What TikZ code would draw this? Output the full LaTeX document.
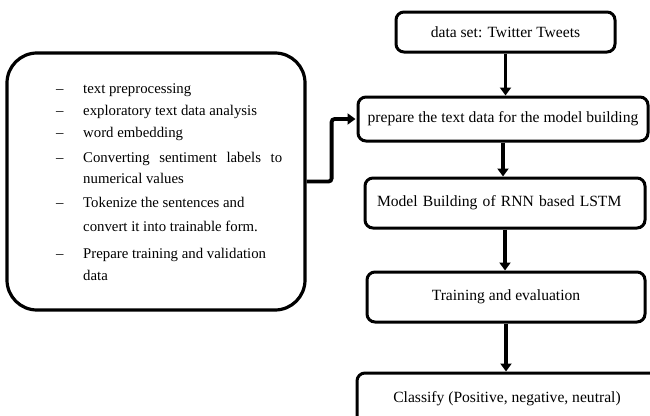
\documentclass[tikz,border=0pt]{standalone}
\usepackage{fontspec}
\setmainfont{Liberation Serif}
\usetikzlibrary{arrows.meta}

\tikzset{
  stepbox/.style={draw=black, line width=3pt, rounded corners=8pt, fill=white,
    inner sep=0pt, font=\fontsize{15.6}{18}\selectfont},
  flow/.style={line width=3.8pt, -{Triangle[width=11pt,length=8pt]}},
  listline/.style={anchor=base west, inner sep=0pt, font=\fontsize{14.8}{17}\selectfont},
}

\begin{document}
\begin{tikzpicture}[x=1pt, y=-1pt]
  \useasboundingbox (0,0) rectangle (650,415);

  % pipeline on the right
  \node[stepbox, minimum width=219pt, minimum height=40pt] (data) at (505.5,32) {data set: Twitter Tweets};
  \node[stepbox, minimum width=290pt, minimum height=44pt] (prep) at (503,119) {prepare the text data for the model building};
  \node[stepbox, minimum width=280pt, minimum height=50pt, text width=256pt, align=left] (model) at (505,203) {Model Building of RNN based LSTM};
  \node[stepbox, minimum width=278pt, minimum height=50pt] (train) at (506,297) {Training and evaluation};
  \node[stepbox, minimum width=300pt, minimum height=52pt] (classify) at (507,399) {Classify (Positive, negative, neutral)};

  % preprocessing steps on the left
  \node[draw=black, line width=3.2pt, rounded corners=30pt, minimum width=298pt, minimum height=257pt, inner sep=0pt] (steps) at (156,181.5) {};

  \node[listline] (s1) at (56,93)  {\makebox[27pt][l]{–}text preprocessing};
  \node[listline] (s2) at (56,115) {\makebox[27pt][l]{–}exploratory text data analysis};
  \node[listline] (s3) at (56,137) {\makebox[27pt][l]{–}word embedding};
  \node[listline] (s4) at (56,162) {\makebox[27pt][l]{–}\makebox[199pt][s]{Converting sentiment labels to}};
  \node[listline] (s4b) at (83,183) {numerical values};
  \node[listline] (s5) at (56,207) {\makebox[27pt][l]{–}Tokenize the sentences and};
  \node[listline] (s5b) at (83,231) {convert it into trainable form.};
  \node[listline] (s6) at (56,258) {\makebox[27pt][l]{–}Prepare training and validation};
  \node[listline] (s6b) at (83,280) {data};

  % connectors
  \draw[flow] (data.south) -- (data.south |- prep.north);
  \draw[flow] (prep.south) -- (prep.south |- model.north);
  \draw[flow] (model.south) -- (model.south |- train.north);
  \draw[flow] (train.south) -- (train.south |- classify.north);
  \draw[flow, rounded corners=3pt, shorten >=1pt] (steps.east) -- ++(25,0) |- (prep.west);
\end{tikzpicture}
\end{document}
